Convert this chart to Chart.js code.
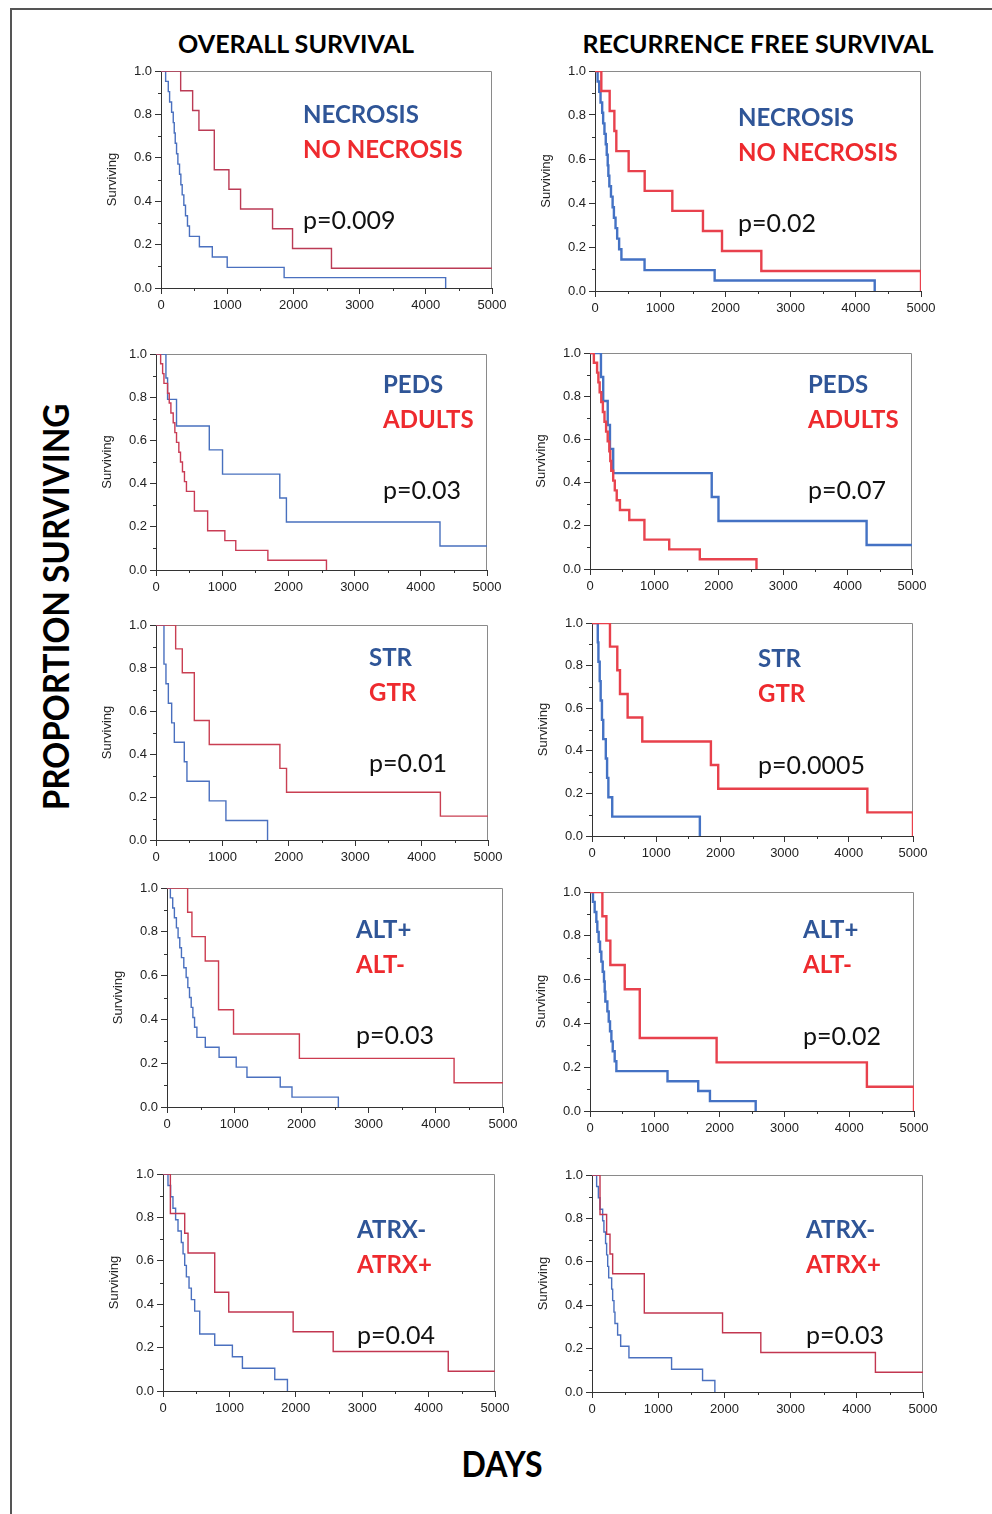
<!DOCTYPE html>
<html>
<head>
<meta charset="utf-8">
<script src="https://cdn.jsdelivr.net/npm/chart.js@4.4.1/dist/chart.umd.min.js"></script>
<style>
  body { margin: 0; background: #fff; width: 992px; height: 1514px; position: relative; overflow: hidden; }
  .frame { position: absolute; left: 10px; top: 8px; width: 1100px; height: 1600px; border-left: 2px solid #555; border-top: 2px solid #555; }
  canvas { position: absolute; }
  .t { position: absolute; white-space: nowrap; line-height: 1; font-family: Lato, "Open Sans", sans-serif; }
  .head { font-weight: 700; font-size: 25px; color: #000; }
  .big { font-weight: 700; font-size: 36px; color: #000; }
  .lab { font-weight: 700; font-size: 24px; }
  .blue { color: #2f5597; }
  .red { color: #ee2a2e; }
  .p { font-weight: 400; font-size: 25px; color: #111; }
</style>
</head>
<body>
<div class="frame"></div>
<script>
// tick values
const xTicks = [0, 1000, 2000, 3000, 4000, 5000];
const xMinor = [500, 1500, 2500, 3500, 4500];
const yTicks = [0, 0.2, 0.4, 0.6, 0.8, 1.0];
const yMinor = [0.1, 0.3, 0.5, 0.7, 0.9];

// Kaplan-Meier curves: [day, proportion surviving]
const osNecrosisBlue = [[0,1],[70,0.952],[110,0.905],[130,0.857],[160,0.810],[185,0.762],[200,0.714],[215,0.667],[235,0.619],[255,0.571],[280,0.524],[300,0.476],[320,0.429],[345,0.381],[370,0.333],[400,0.286],[430,0.238],[580,0.190],[775,0.143],[1000,0.095],[1860,0.048],[4300,0]];
const osNecrosisRed = [[0,1],[297,0.909],[478,0.818],[573,0.727],[805,0.545],[1026,0.455],[1202,0.364],[1685,0.273],[1987,0.182],[2575,0.091],[5000,0.091]];

const rfsNecrosisBlue = [[0,1],[40,0.952],[65,0.905],[85,0.857],[110,0.810],[125,0.762],[145,0.714],[165,0.667],[180,0.619],[195,0.571],[205,0.524],[220,0.476],[245,0.429],[270,0.381],[290,0.333],[315,0.286],[340,0.238],[370,0.190],[405,0.143],[760,0.095],[1835,0.048],[4290,0]];
const rfsNecrosisRed = [[0,1],[97,0.909],[225,0.818],[297,0.727],[327,0.636],[516,0.545],[762,0.455],[1186,0.364],[1656,0.273],[1948,0.182],[2551,0.091],[5000,0]];

const osPedsBlue = [[0,1],[150,0.889],[175,0.790],[310,0.667],[805,0.556],[1005,0.444],[1870,0.333],[1970,0.222],[4290,0.111],[5000,0.111]];
const osPedsRed = [[0,1],[70,0.955],[100,0.909],[120,0.864],[175,0.818],[200,0.773],[225,0.727],[260,0.682],[285,0.636],[310,0.591],[345,0.545],[370,0.5],[400,0.455],[430,0.409],[460,0.364],[580,0.273],[780,0.182],[1040,0.136],[1205,0.091],[1690,0.045],[2575,0]];

const rfsPedsBlue = [[0,1],[170,0.889],[205,0.778],[275,0.667],[310,0.556],[360,0.444],[1890,0.333],[1995,0.222],[4295,0.111],[5000,0.111]];
const rfsPedsRed = [[0,1],[60,0.955],[110,0.909],[130,0.864],[150,0.818],[175,0.773],[200,0.727],[225,0.682],[250,0.636],[275,0.591],[300,0.545],[315,0.5],[330,0.455],[360,0.409],[385,0.364],[415,0.318],[465,0.273],[610,0.227],[845,0.136],[1230,0.091],[1705,0.045],[2585,0]];

const osStrBlue = [[0,1],[120,0.818],[150,0.727],[186,0.636],[236,0.545],[276,0.455],[426,0.364],[466,0.273],[802,0.182],[1053,0.091],[1680,0]];
const osStrRed = [[0,1],[296,0.889],[396,0.778],[577,0.556],[802,0.444],[1866,0.333],[1966,0.222],[4283,0.111],[5000,0.111]];

const rfsStrBlue = [[0,1],[90,0.909],[100,0.818],[120,0.727],[135,0.636],[155,0.545],[175,0.455],[215,0.364],[235,0.273],[255,0.182],[315,0.091],[1680,0]];
const rfsStrRed = [[0,1],[280,0.889],[394,0.778],[436,0.667],[555,0.556],[783,0.444],[1852,0.333],[1966,0.222],[4289,0.111],[5000,0]];

const osAltBlue = [[0,1],[50,0.955],[85,0.909],[110,0.864],[140,0.818],[165,0.773],[190,0.727],[215,0.682],[250,0.636],[285,0.591],[310,0.545],[335,0.5],[360,0.455],[385,0.409],[410,0.364],[445,0.318],[570,0.273],[775,0.227],[1030,0.182],[1190,0.136],[1685,0.091],[1860,0.045],[2550,0]];
const osAltRed = [[0,1],[307,0.889],[371,0.778],[569,0.667],[767,0.444],[990,0.333],[1970,0.222],[4272,0.111],[5000,0.111]];

const rfsAltBlue = [[0,1],[46,0.955],[72,0.909],[98,0.864],[113,0.818],[134,0.773],[155,0.727],[175,0.682],[196,0.636],[216,0.591],[227,0.545],[237,0.5],[268,0.455],[289,0.409],[309,0.364],[330,0.318],[351,0.273],[381,0.227],[407,0.182],[1196,0.136],[1670,0.091],[1851,0.045],[2557,0]];
const rfsAltRed = [[0,1],[191,0.889],[253,0.778],[314,0.667],[536,0.556],[768,0.333],[1954,0.222],[4273,0.111],[5000,0]];

const osAtrxBlue = [[0,1],[75,0.947],[115,0.895],[150,0.842],[190,0.789],[226,0.737],[276,0.684],[302,0.632],[327,0.579],[352,0.526],[392,0.474],[427,0.421],[477,0.368],[553,0.263],[779,0.211],[1045,0.158],[1196,0.105],[1683,0.053],[1874,0]];
const osAtrxRed = [[0,1],[111,0.818],[327,0.727],[377,0.636],[779,0.455],[990,0.364],[1960,0.273],[2563,0.182],[4296,0.091],[5000,0.091]];

const rfsAtrxBlue = [[0,1],[70,0.947],[96,0.895],[121,0.842],[161,0.789],[180,0.737],[205,0.684],[221,0.632],[237,0.579],[252,0.526],[297,0.474],[312,0.421],[332,0.368],[347,0.316],[387,0.263],[433,0.211],[558,0.158],[1202,0.105],[1670,0.053],[1856,0]];
const rfsAtrxRed = [[0,1],[121,0.818],[221,0.727],[272,0.636],[312,0.545],[790,0.364],[1972,0.273],[2550,0.182],[4281,0.091],[5000,0.091]];

const panels = [
  { box: [161, 71, 492, 288], blue: osNecrosisBlue, red: osNecrosisRed, bc: "#4a70bf", rc: "#bb3b55", lw: 1.4,
    labels: ["NECROSIS", "NO NECROSIS", "p=0.009"], tx: 303, ty: [115, 150, 220] },
  { box: [595, 71, 921, 291], blue: rfsNecrosisBlue, red: rfsNecrosisRed, bc: "#4472c4", rc: "#e8414d", lw: 2.4,
    labels: ["NECROSIS", "NO NECROSIS", "p=0.02"], tx: 738, ty: [118, 153, 223] },
  { box: [156, 354, 487, 570], blue: osPedsBlue, red: osPedsRed, bc: "#4870be", rc: "#c93c55", lw: 1.4,
    labels: ["PEDS", "ADULTS", "p=0.03"], tx: 383, ty: [385, 420, 490] },
  { box: [590, 353, 912, 569], blue: rfsPedsBlue, red: rfsPedsRed, bc: "#4472c4", rc: "#e8444f", lw: 2.4,
    labels: ["PEDS", "ADULTS", "p=0.07"], tx: 808, ty: [385, 420, 490] },
  { box: [156, 625, 488, 840], blue: osStrBlue, red: osStrRed, bc: "#4a70bf", rc: "#c93f52", lw: 1.4,
    labels: ["STR", "GTR", "p=0.01"], tx: 369, ty: [658, 693, 763] },
  { box: [592, 623, 913, 836], blue: rfsStrBlue, red: rfsStrRed, bc: "#4472c4", rc: "#e8404b", lw: 2.4,
    labels: ["STR", "GTR", "p=0.0005"], tx: 758, ty: [659, 694, 765] },
  { box: [167, 888, 503, 1107], blue: osAltBlue, red: osAltRed, bc: "#4a70bf", rc: "#cc3c50", lw: 1.4,
    labels: ["ALT+", "ALT-", "p=0.03"], tx: 356, ty: [930, 965, 1035] },
  { box: [590, 892, 914, 1111], blue: rfsAltBlue, red: rfsAltRed, bc: "#4472c4", rc: "#e8414d", lw: 2.4,
    labels: ["ALT+", "ALT-", "p=0.02"], tx: 803, ty: [930, 965, 1036] },
  { box: [163, 1174, 495, 1391], blue: osAtrxBlue, red: osAtrxRed, bc: "#4a70bf", rc: "#c23650", lw: 1.4,
    labels: ["ATRX-", "ATRX+", "p=0.04"], tx: 357, ty: [1230, 1265, 1335] },
  { box: [592, 1175, 923, 1392], blue: rfsAtrxBlue, red: rfsAtrxRed, bc: "#4a70bf", rc: "#c23650", lw: 1.4,
    labels: ["ATRX-", "ATRX+", "p=0.03"], tx: 806, ty: [1230, 1265, 1335] },
];

const axisFont = { family: "'Liberation Sans', Arial, sans-serif", size: 13 };

// grey frame on top/right plus the small in-between ticks
const framePlugin = {
  id: "frame",
  beforeDatasetsDraw(chart) {
    const { ctx, chartArea: a, scales } = chart;
    ctx.save();
    ctx.strokeStyle = "#8a8a8a";
    ctx.lineWidth = 1;
    ctx.beginPath();
    ctx.moveTo(a.left, a.top + 0.5);
    ctx.lineTo(a.right - 0.5, a.top + 0.5);
    ctx.lineTo(a.right - 0.5, a.bottom);
    ctx.stroke();
    ctx.strokeStyle = "#333";
    ctx.beginPath();
    xMinor.forEach((v) => {
      const px = Math.round(scales.x.getPixelForValue(v)) + 0.5;
      ctx.moveTo(px, a.bottom);
      ctx.lineTo(px, a.bottom + 3);
    });
    yMinor.forEach((v) => {
      const py = Math.round(scales.y.getPixelForValue(v)) + 0.5;
      ctx.moveTo(a.left, py);
      ctx.lineTo(a.left - 3, py);
    });
    ctx.stroke();
    ctx.restore();
  },
};

function toPoints(series) {
  return series.map(([day, s]) => ({ x: day, y: s }));
}

function makePanel(p) {
  const [left, top, right, bottom] = p.box;
  const padTop = 12, yW = 56, xH = 28, padR = 24;
  const w = right - left + yW + padR;
  const h = bottom - top + padTop + xH;
  const canvas = document.createElement("canvas");
  canvas.width = w;
  canvas.height = h;
  canvas.style.width = w + "px";
  canvas.style.height = h + "px";
  canvas.style.left = left - yW + "px";
  canvas.style.top = top - padTop + "px";
  document.body.appendChild(canvas);

  const line = (data, color) => ({
    data: toPoints(data),
    borderColor: color,
    borderWidth: p.lw,
    stepped: true,
    pointRadius: 0,
    fill: false,
  });

  const chart = new Chart(canvas, {
    type: "line",
    data: { datasets: [line(p.red, p.rc), line(p.blue, p.bc)] },
    options: {
      responsive: false,
      animation: false,
      devicePixelRatio: 1,
      layout: { padding: { top: padTop, right: padR, left: 0, bottom: 0 } },
      plugins: { legend: { display: false }, tooltip: { enabled: false } },
      scales: {
        x: {
          type: "linear", min: 0, max: 5000,
          afterBuildTicks: (s) => { s.ticks = xTicks.map((v) => ({ value: v })); },
          ticks: { callback: (v) => String(v), font: axisFont, color: "#222", padding: 4, maxRotation: 0, autoSkip: false },
          grid: { drawOnChartArea: false, tickLength: 6, tickColor: "#333" },
          border: { color: "#333", width: 1 },
          afterFit: (s) => { s.height = xH; },
        },
        y: {
          type: "linear", min: 0, max: 1,
          afterBuildTicks: (s) => { s.ticks = yTicks.map((v) => ({ value: v })); },
          ticks: { callback: (v) => v.toFixed(1), font: axisFont, color: "#222", padding: 3 },
          grid: { drawOnChartArea: false, tickLength: 6, tickColor: "#333" },
          border: { color: "#333", width: 1 },
          title: { display: true, text: "Surviving", font: axisFont, color: "#222", padding: { top: 0, bottom: 4 } },
          afterFit: (s) => { s.width = yW; },
        },
      },
    },
    plugins: [framePlugin],
  });

  const ca = chart.chartArea;
  canvas.style.left = left - ca.left + "px";
  canvas.style.top = top - ca.top + "px";

  addLabel(p.labels[0], p.tx, p.ty[0], "lab blue");
  addLabel(p.labels[1], p.tx, p.ty[1], "lab red");
  addLabel(p.labels[2], p.tx, p.ty[2], "p");
}

function addLabel(text, x, cy, cls) {
  const el = document.createElement("div");
  el.className = "t " + cls;
  el.textContent = text;
  el.style.left = x + "px";
  el.style.top = cy + "px";
  el.style.transform = "translateY(-53%)";
  document.body.appendChild(el);
}

function addCentered(text, cx, cy, cls, width, vertical) {
  const el = document.createElement("div");
  el.className = "t " + cls;
  el.textContent = text;
  document.body.appendChild(el);
  const s = width / el.offsetWidth;
  el.style.left = cx + "px";
  el.style.top = cy + "px";
  el.style.transform = "translate(-50%,-53%)" + (vertical ? " rotate(-90deg)" : "") + " scaleX(" + s + ")";
}

addCentered("OVERALL SURVIVAL", 296, 44, "head", 236, false);
addCentered("RECURRENCE FREE SURVIVAL", 758, 44, "head", 351, false);
addCentered("PROPORTION SURVIVING", 55, 608, "big", 407, true);
addCentered("DAYS", 502, 1464, "big", 81, false);

panels.forEach(makePanel);
</script>
</body>
</html>
